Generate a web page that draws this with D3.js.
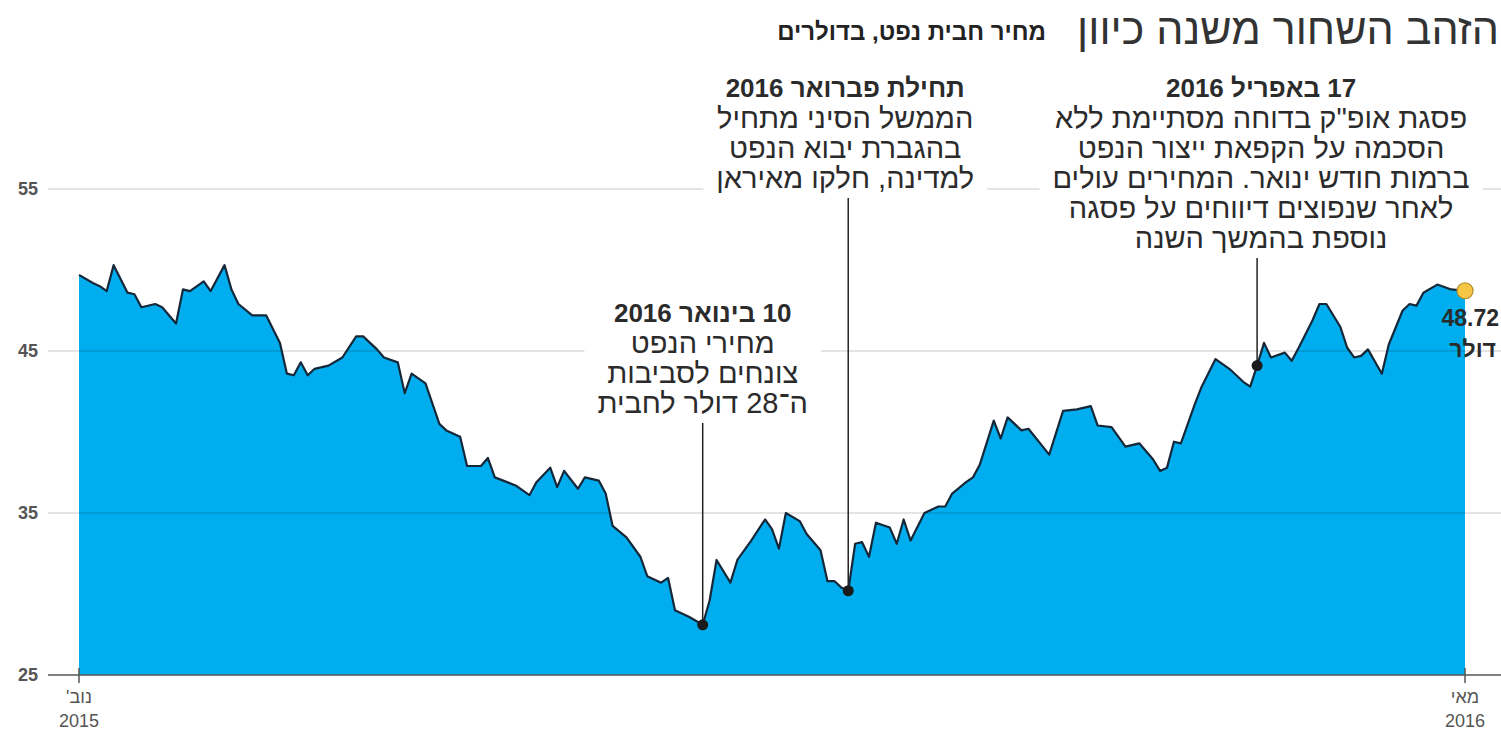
<!DOCTYPE html>
<html lang="he">
<head>
<meta charset="utf-8">
<script src="https://cdn.jsdelivr.net/npm/d3@7/dist/d3.min.js"></script>
<style>
  html, body { margin: 0; padding: 0; background: #fff; }
  svg { display: block; font-family: 'Liberation Sans', 'DejaVu Sans', sans-serif; }
</style>
</head>
<body>
<svg id="chart" width="1501" height="733"></svg>
<script>
// trading-day index (0 = start of Nov 2015, 200 = May 2016) and Brent price, $ per barrel
const tradingDay = [0, 2, 3, 4, 5, 7, 8, 9, 11, 12, 14, 15, 16, 18, 19, 21, 22, 23, 25, 27,
  29, 30, 31, 32, 33, 34, 36, 38, 40, 41, 43, 44, 46, 47, 48, 50, 52, 53, 55, 56,
  58, 59, 60, 63, 65, 66, 68, 69, 70, 72, 73, 75, 76, 77, 79, 81, 82, 84, 85, 86,
  88, 90, 91, 92, 94, 95, 97, 99, 100, 101, 102, 104, 105, 107, 108, 109, 110, 111, 112, 113,
  114, 115, 117, 118, 119, 120, 122, 124, 125, 126, 128, 129, 130, 132, 133, 134, 136, 137, 140, 142,
  144, 146, 147, 149, 151, 153, 155, 156, 157, 158, 159, 161, 162, 164, 166, 168, 169, 170, 171, 172,
  174, 175, 176, 178, 179, 180, 182, 183, 184, 185, 186, 188, 189, 191, 192, 193, 194, 196, 198, 200];
const price = [49.7, 49.2, 49.0, 48.7, 50.3, 48.6, 48.5, 47.7, 47.9, 47.7, 46.7, 48.8, 48.7, 49.3, 48.7, 50.3, 48.8, 47.9, 47.2, 47.2,
  45.5, 43.6, 43.5, 44.3, 43.5, 43.9, 44.1, 44.6, 45.9, 45.9, 45.1, 44.6, 44.3, 42.4, 43.6, 43.0, 40.5, 40.1, 39.7, 37.9,
  37.9, 38.4, 37.2, 36.7, 36.1, 36.9, 37.8, 36.6, 37.6, 36.5, 37.2, 37.0, 36.2, 34.2, 33.5, 32.3, 31.1, 30.7, 31.0, 29.0,
  28.6, 28.1, 29.6, 32.1, 30.7, 32.1, 33.3, 34.6, 34.0, 32.8, 35.0, 34.5, 33.7, 32.7, 30.8, 30.8, 30.4, 30.2, 33.1, 33.2,
  32.3, 34.4, 34.1, 33.1, 34.6, 33.3, 35.0, 35.4, 35.4, 36.2, 36.9, 37.2, 38.0, 40.7, 39.6, 40.9, 40.1, 40.2, 38.6, 41.3,
  41.4, 41.6, 40.4, 40.3, 39.1, 39.3, 38.3, 37.6, 37.8, 39.4, 39.3, 41.7, 42.8, 44.5, 43.9, 43.1, 42.8, 44.1, 45.5, 44.6,
  44.9, 44.4, 45.2, 46.9, 47.9, 47.9, 46.5, 45.2, 44.6, 44.7, 45.1, 43.6, 45.4, 47.5, 47.9, 47.8, 48.6, 49.1, 48.8, 48.72];

const yTicks = [25, 35, 45, 55];
const xTickDays = [0, 200];
const xTickMonths = ['נוב\'', 'מאי'];
const xTickYears = ['2015', '2016'];

const noteDays = [90, 111, 170];
const noteTitles = ['10 בינואר 2016', 'תחילת פברואר 2016', '17 באפריל 2016'];
const noteLines = [
  ['מחירי הנפט', 'צונחים לסביבות', 'ה־28 דולר לחבית'],
  ['הממשל הסיני מתחיל', 'בהגברת יבוא הנפט', 'למדינה, חלקו מאיראן'],
  ['פסגת אופ"ק בדוחה מסתיימת ללא', 'הסכמה על הקפאת ייצור הנפט', 'ברמות חודש ינואר. המחירים עולים',
    'לאחר שנפוצים דיווחים על פסגה', 'נוספת בהמשך השנה']
];

const titleText = 'הזהב השחור משנה כיוון';
const subtitleText = 'מחיר חבית נפט, בדולרים';
const lastLabel = ['48.72', 'דולר'];

// layout
let plotLeft = 79;
let plotRight = 1465;
let plotTop = 189;
let plotBottom = 675;
let gridLeft = 48;
let gridRight = 1501;
let areaColor = '#00aeef';
let lineColor = '#15283a';
let textColor = '#2b2b2b';
let axisColor = '#555555';
let noteTop = [322, 97, 97];      // baseline of note title
let noteLineGap = 30;
let noteShift = [0, -3, 4];
let boxPad = 13;

const svg = d3.select('#chart');

const data = tradingDay.map((d, i) => ({day: d, value: price[i]}));

const x = d3.scaleLinear()
  .domain([0, 200])
  .range([plotLeft, plotRight]);

const y = d3.scaleLinear()
  .domain([25, 55])
  .range([plotBottom, plotTop]);

// title
svg.append('text')
  .attr('x', 1499)
  .attr('y', 44)
  .attr('direction', 'rtl')
  .attr('text-anchor', 'start')
  .style('font-size', '43px')
  .style('fill', '#333')
  .text(titleText);

svg.append('text')
  .attr('x', 1046)
  .attr('y', 40)
  .attr('direction', 'rtl')
  .attr('text-anchor', 'start')
  .style('font-size', '24px')
  .style('font-weight', 'bold')
  .style('fill', '#222')
  .text(subtitleText);

// area
const area = d3.area()
  .x(d => x(d.day))
  .y0(y(25))
  .y1(d => y(d.value));

svg.append('path')
  .attr('d', area(data))
  .attr('fill', areaColor);

// gridlines
svg.append('g')
  .attr('class', 'grid')
  .selectAll('line')
  .data(yTicks.filter(t => t !== 25))
  .enter()
  .append('line')
  .attr('x1', gridLeft)
  .attr('x2', gridRight)
  .attr('y1', d => y(d))
  .attr('y2', d => y(d))
  .attr('stroke', '#000')
  .attr('stroke-opacity', 0.14)
  .attr('stroke-width', 1.5);

// y labels
svg.append('g')
  .selectAll('text')
  .data(yTicks)
  .enter()
  .append('text')
  .attr('x', 38)
  .attr('y', d => y(d))
  .attr('dy', '0.35em')
  .attr('text-anchor', 'end')
  .style('font-size', '18px')
  .style('font-weight', 'bold')
  .style('fill', axisColor)
  .text(d => d);

// notes: white boxes first, then text
const notes = svg.append('g').attr('class', 'notes');
noteDays.forEach((day, i) => {
  let cx = x(day) + noteShift[i];
  let g = notes.append('g');
  let box = g.append('rect').attr('fill', '#fff');
  let t = g.append('text')
    .attr('direction', 'rtl')
    .attr('text-anchor', 'middle')
    .style('fill', textColor);
  t.append('tspan')
    .attr('x', cx)
    .attr('y', noteTop[i])
    .style('font-size', '26px')
    .style('font-weight', 'bold')
    .text(noteTitles[i]);
  noteLines[i].forEach((s, j) => {
    t.append('tspan')
      .attr('x', cx)
      .attr('y', noteTop[i] + (j + 1) * noteLineGap + 1)
      .style('font-size', '29px')
      .text(s);
  });
  let bb = t.node().getBBox();
  box.attr('x', bb.x - boxPad)
    .attr('y', bb.y - 4)
    .attr('width', bb.width + boxPad * 2)
    .attr('height', bb.height + 6);
  let d = data.find(p => p.day === day);
  g.append('line')
    .attr('x1', x(day))
    .attr('x2', x(day))
    .attr('y1', bb.y + bb.height + 4)
    .attr('y2', y(d.value))
    .attr('stroke', '#222')
    .attr('stroke-width', 1.5);
});

// line
const line = d3.line()
  .x(d => x(d.day))
  .y(d => y(d.value));

svg.append('path')
  .attr('d', line(data))
  .attr('fill', 'none')
  .attr('stroke', lineColor)
  .attr('stroke-width', 2.2)
  .attr('stroke-linejoin', 'round');

// marker dots
svg.append('g')
  .selectAll('circle')
  .data(noteDays.map(day => data.find(p => p.day === day)))
  .enter()
  .append('circle')
  .attr('cx', d => x(d.day))
  .attr('cy', d => y(d.value))
  .attr('r', 5.5)
  .attr('fill', '#1b1b1b');

// x axis
svg.append('line')
  .attr('x1', gridLeft)
  .attr('x2', gridRight)
  .attr('y1', y(25))
  .attr('y2', y(25))
  .attr('stroke', axisColor)
  .attr('stroke-width', 1.5);

const xTicks = svg.append('g')
  .selectAll('g')
  .data(xTickDays)
  .enter()
  .append('g')
  .attr('transform', d => 'translate(' + x(d) + ',0)');

xTicks.append('line')
  .attr('y1', y(25) - 7)
  .attr('y2', y(25) + 8)
  .attr('stroke', axisColor)
  .attr('stroke-width', 1.5);

xTicks.append('text')
  .attr('y', 703)
  .attr('direction', 'rtl')
  .attr('text-anchor', 'middle')
  .style('font-size', '18px')
  .style('fill', axisColor)
  .text((d, i) => xTickMonths[i]);

xTicks.append('text')
  .attr('y', 727)
  .attr('text-anchor', 'middle')
  .style('font-size', '18px')
  .style('fill', axisColor)
  .text((d, i) => xTickYears[i]);

// last value
let last = data[data.length - 1];
svg.append('circle')
  .attr('cx', x(last.day))
  .attr('cy', y(last.value))
  .attr('r', 8)
  .attr('fill', '#f6c744')
  .attr('stroke', '#b08a2a')
  .attr('stroke-width', 1.2);

svg.append('text')
  .attr('x', 1499)
  .attr('y', 326)
  .attr('text-anchor', 'end')
  .style('font-size', '23px')
  .style('font-weight', 'bold')
  .style('fill', textColor)
  .text(lastLabel[0]);

svg.append('text')
  .attr('x', 1496)
  .attr('y', 357)
  .attr('text-anchor', 'end')
  .style('font-size', '23px')
  .style('font-weight', 'bold')
  .style('fill', textColor)
  .text(lastLabel[1]);
</script>
</body>
</html>
